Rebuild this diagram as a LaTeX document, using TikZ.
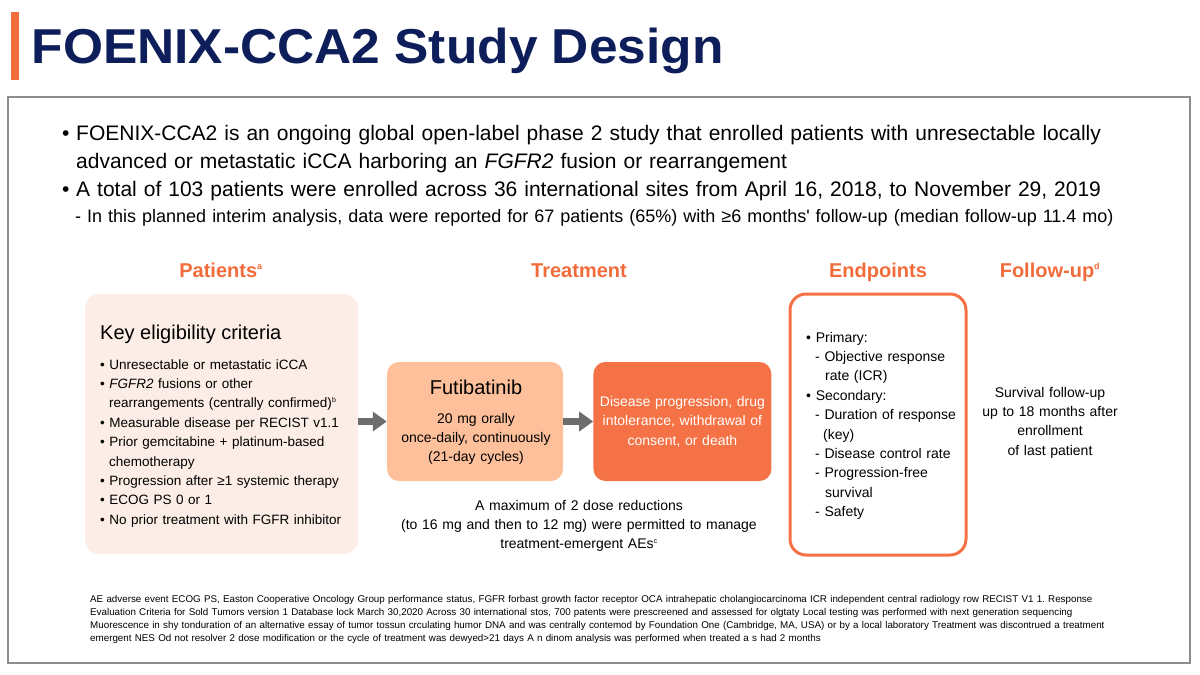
\documentclass[tikz,border=0pt]{standalone}
\usepackage{fontspec}
\setmainfont{Liberation Sans}
\usetikzlibrary{positioning,arrows.meta}
\definecolor{navy}{HTML}{0D1E5B}
\definecolor{hdorange}{HTML}{F26B3A}
\definecolor{patfill}{HTML}{FCEDE6}
\definecolor{drugfill}{HTML}{FDC09A}
\definecolor{stopfill}{HTML}{F47245}
\definecolor{arrowgray}{HTML}{6D6D6D}
\definecolor{framegray}{HTML}{8C8C8C}
\newcommand\notemark[1]{\textsuperscript{\fontsize{9}{9}\selectfont #1}}
\frenchspacing
\tikzset{
    titletext/.style = {font=\fontsize{49}{56}\selectfont\bfseries\addfontfeature{FakeStretch=1.05}, text=navy, inner sep=0pt},
    framebox/.style = {rectangle, draw=framegray, line width=1.5pt, minimum width=1182pt, minimum height=566pt},
    header/.style = {font=\fontsize{20}{24}\selectfont\bfseries, text=hdorange, inner sep=0pt, anchor=base},
    panel/.style = {rectangle, rounded corners=14pt, fill=patfill, minimum width=273pt, minimum height=260pt},
    drugbox/.style = {rectangle, rounded corners=12pt, fill=drugfill, minimum width=176pt, minimum height=119pt},
    stopbox/.style = {rectangle, rounded corners=12pt, fill=stopfill, minimum width=178pt, minimum height=119pt, text width=170pt, align=center, text=white, font=\fontsize{14}{19.5}\selectfont, inner sep=0pt},
    endbox/.style = {rectangle, rounded corners=16pt, draw=stopfill, line width=3pt, fill=white, minimum width=176pt, minimum height=261pt},
    bodytext/.style = {font=\fontsize{14}{19.4}\selectfont, inner sep=0pt, align=left},
    blockarrow/.style = {draw=arrowgray, line width=7pt, -{Triangle[length=14pt,width=19pt]}}
}
\begin{document}
\begin{tikzpicture}[x=1pt,y=-1pt]
\useasboundingbox (0,0) rectangle (1200,675);
% title bar
\fill[hdorange] (11,12) rectangle (19,80);
\node (title) [titletext, anchor=base west] at (31.5,63) {FOENIX-CCA2 Study Design};
\node (frame) [framebox] at (599,380) {};

% intro
\node (intro) [bodytext, font=\fontsize{21}{28}\selectfont, text width=1120pt, anchor=base west] at (62,140)
  {\makebox[14pt][l]{•}FOENIX-CCA2 is an ongoing global open-label phase 2 study that enrolled patients with unresectable locally\\
   \hspace*{14pt}advanced or metastatic iCCA harboring an \textit{FGFR2} fusion or rearrangement\\
   \makebox[14pt][l]{•}A total of 103 patients were enrolled across 36 international sites from April 16, 2018, to November 29, 2019};
\node (interim) [bodytext, font=\fontsize{18}{20}\selectfont, text width=1100pt, anchor=base west] at (75,222)
  {- In this planned interim analysis, data were reported for 67 patients (65\%) with ≥6 months\textquotesingle{} follow-up (median follow-up 11.4 mo)};

% column heads
\node (hpat) [header] at (221,277) {Patients\notemark{a}};
\node (htrt) [header] at (579,277) {Treatment};
\node (hend) [header] at (878,277) {Endpoints};
\node (hfol) [header] at (1050,277) {Follow-up\notemark{d}};

% patients
\node (pat) [panel] at (221.5,424) {};
\node (keyhead) [bodytext, font=\fontsize{20}{24}\selectfont, anchor=base west] at (100,339) {Key eligibility criteria};
\node (crit) [bodytext, font=\fontsize{13.5}{19.4}\selectfont, text width=255pt, anchor=base west] at (100,369)
  {• Unresectable or metastatic iCCA\\
   • \textit{FGFR2} fusions or other\\
   \hspace*{9pt}rearrangements (centrally confirmed)\notemark{\fontsize{7}{7}\selectfont b}\\
   • Measurable disease per RECIST v1.1\\
   • Prior gemcitabine + platinum-based\\
   \hspace*{9pt}chemotherapy\\
   • Progression after ≥1 systemic therapy\\
   • ECOG PS 0 or 1\\
   • No prior treatment with FGFR inhibitor};

% treatment
\node (futi) [drugbox] at (475,421.5) {};
\node (stop) [stopbox, right=30pt of futi] {Disease progression, drug\\intolerance, withdrawal of\\consent, or death};
\node (futiname) [bodytext, font=\fontsize{20}{24}\selectfont, anchor=base] at (476,394) {Futibatinib};
\node (futidose) [bodytext, text width=170pt, align=center, anchor=base] at (476,423)
  {20 mg orally\\once-daily, continuously\\(21-day cycles)};
\node (dosered) [bodytext, text width=360pt, align=center, anchor=base] at (579,510)
  {A maximum of 2 dose reductions\\(to 16 mg and then to 12 mg) were permitted to manage\\treatment-emergent AEs\notemark{\fontsize{7}{7}\selectfont c}};

\draw [blockarrow] (pat.east |- futi.west) -- (futi.west);
\draw [blockarrow] (futi.east) -- (stop.west);

% endpoints
\node (endp) [endbox] at (878,424.5) {};
\node (endlist) [bodytext, text width=155pt, anchor=base west] at (806,342)
  {• Primary:\\
   \hspace*{9pt}- Objective response\\
   \hspace*{19pt}rate (ICR)\\
   • Secondary:\\
   \hspace*{9pt}- Duration of response\\
   \hspace*{17pt}(key)\\
   \hspace*{9pt}- Disease control rate\\
   \hspace*{9pt}- Progression-free\\
   \hspace*{19pt}survival\\
   \hspace*{9pt}- Safety};

% follow-up
\node (follow) [bodytext, text width=160pt, align=center, anchor=base] at (1050,397)
  {Survival follow-up\\up to 18 months after\\enrollment\\of last patient};

% footnotes
\node (notes) [bodytext, font=\fontsize{9.8}{13}\selectfont\frenchspacing, text width=1090pt, anchor=base west] at (90,602)
  {AE adverse event ECOG PS, Easton Cooperative Oncology Group performance status, FGFR forbast growth factor receptor OCA intrahepatic cholangiocarcinoma ICR independent central radiology row RECIST V1 1. Response\\
   Evaluation Criteria for Sold Tumors version 1 Database lock March 30,2020 Across 30 international stos, 700 patents were prescreened and assessed for olgtaty Local testing was performed with next generation sequencing\\
   Muorescence in shy tonduration of an alternative essay of tumor tossun crculating humor DNA and was centrally contemod by Foundation One (Cambridge, MA, USA) or by a local laboratory Treatment was discontrued a treatment\\
   emergent NES Od not resolver 2 dose modification or the cycle of treatment was dewyed>21 days A n dinom analysis was performed when treated a s had 2 months};
\end{tikzpicture}
\end{document}
